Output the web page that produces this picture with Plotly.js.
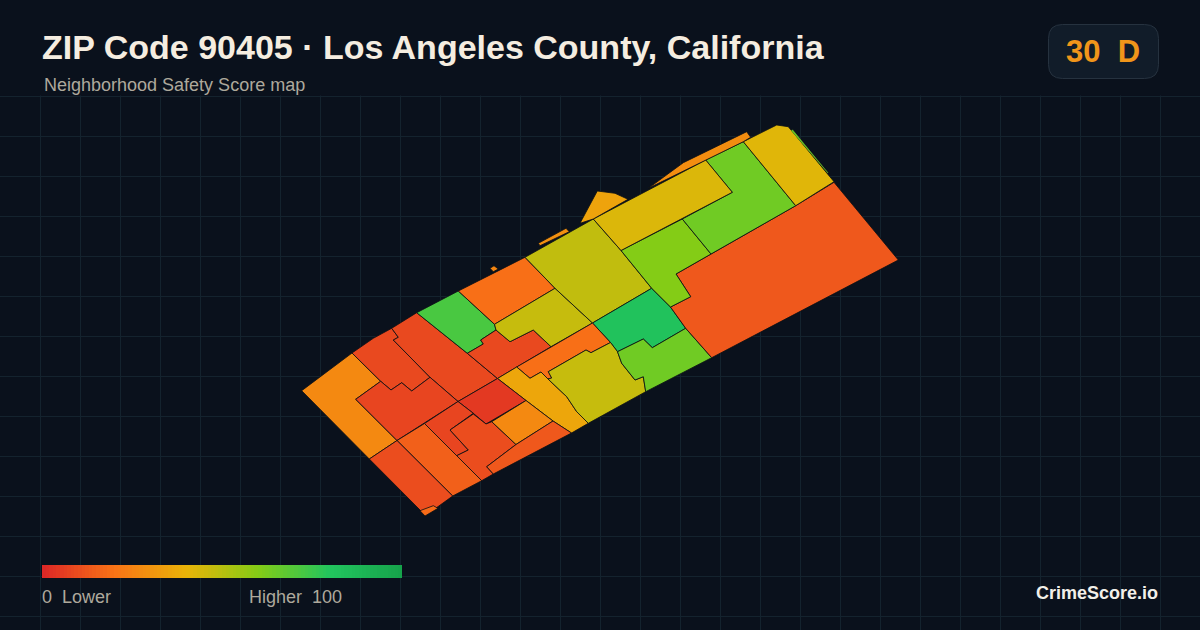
<!DOCTYPE html>
<html><head><meta charset="utf-8">
<script src="https://cdn.plot.ly/plotly-3.0.1.min.js"></script>
<style>html,body{margin:0;padding:0;background:#0a111c;overflow:hidden}#c{width:1200px;height:630px}</style>
</head><body><div id="c"></div>
<script>
const scoreStops=[0,20,40,60,80,100];
const stopColors=['#dc2626','#f97316','#eab308','#84cc16','#22c55e','#16a34a'];
const tractScore=[27,9,9,8,72,9,19,47,48,82,19,36,47,64,13,60,64,42,43,28,35,29,26,5,8,10,27,13,15,10,18,64];
const tractX=[
[301.7,352,380.7,355.7,397,369.3],
[352,373.3,391.7,398.3,393.3,430,411.7,401.7,391,380.7],
[391.7,416.7,467.3,497.5,458,430,393.3,398.3],
[355.7,380.7,391,401.7,411.7,430,458,397],
[416.7,458.3,494.5,496,480.7,483.3,467.3],
[467.3,483.3,480.7,496,510,533.3,551,497.5],
[458.3,525,555,494.5],
[494.5,555,592.5,551,533.3,510,496],
[525,593.3,621,651.7,592.5,555],
[592.5,651.7,670.5,685.7,652.3,643.3,617.5,610.5],
[516.7,551,592.5,610.5,591,586,548.3,551.7,548,541,530],
[497.5,516.7,530,541,548,566.7,576.7,588.3,571.5,553,526],
[548.3,586,591,610.5,617.5,621.7,635,643.3,645.7,598.3,588.3,576.7,566.7,548,551.7],
[617.5,643.3,652.3,685.7,711.7,645.7,643.3,635,621.7],
[676,711,795.7,834,898.3,711.7,685.7,670.5,690.7],
[621,682.3,711,676,690.7,670.5,651.7],
[682.3,732.3,705.7,743.3,795.7,711],
[743.3,776.7,788.3,834,795.7],
[593.3,705.7,732.3,621],
[648.3,683.3,746.7,750.7,743.3,705.7],
[580,597.3,615,628,593.3],
[538.3,566,569.3,540],
[490,494,498.3,493.3],
[458,497.5,526,486,473.3],
[424.5,458,473.3,450,468.3,456.7],
[450,473.3,486,491.7,516,486.7,493.3,481.7,456.7,468.3],
[491.7,526,553,516],
[516,553,571.5,493.3,486.7],
[397,424.5,481.7,452.7],
[369.3,397,452.7,425,420],
[420,433.3,438,425],
[792.5,828,791.5]
];
const tractY=[
[390.7,353,381.3,399.3,440.5,459],
[353,338.3,328.3,337.3,340,377.3,391,382.7,390,381.3],
[328.3,312.7,353.3,378.5,401.5,377.3,340,337.3],
[399.3,381.3,390,382.7,391,377.3,401.5,440.5],
[312.7,291,324.3,330,340,344,353.3],
[353.3,344,340,330,341.7,330,346.7,378.5],
[291,257.3,288.3,324.3],
[324.3,288.3,323,346.7,330,341.7,330],
[257.3,219,250.5,288.3,323,288.3],
[323,288.3,307,328.3,347.7,339,351.7,342.5],
[367,346.7,323,342.5,352.7,350,371.7,378,379,372,378.3],
[378.5,367,378.3,372,379,396.7,411.7,423.3,433,421,400.5],
[371.7,350,352.7,342.5,351.7,363.3,380,376.7,391.7,418.3,423.3,411.7,396.7,379,378],
[351.7,339,347.7,328.3,357.7,391.7,376.7,380,363.3],
[274,254,205.7,182.3,260,357.7,328.3,307,296.7],
[250.5,219,254,274,296.7,307,288.3],
[219,192.3,160,141.7,205.7,254],
[141.7,125,126.7,181.7,205.7],
[219,160,192.3,250.5],
[188.3,162.7,131.7,137.3,141.7,160],
[223.3,191,193.3,199.3,219],
[243.3,228.3,231.7,245.7],
[268.3,265.7,269,271.7],
[401.5,378.5,400.5,424,413.3],
[423.5,401.5,413.3,430,450,455.7],
[430,414,424,421.7,444.5,466.7,474,480.7,455.7,450],
[421.7,400.5,421,444.5],
[444.5,421,433,474,466.7],
[440.5,423.5,480.7,496],
[459,440.5,496,516,510],
[510.7,505.7,508.3,516],
[129.8,173,130.8]
];
const titleText='ZIP Code 90405 · Los Angeles County, California';
const subtitleText='Neighborhood Safety Score map';
const badgeText='30\u00a0\u00a0D';
const legendLow='0\u00a0\u00a0Lower';
const legendHigh='Higher\u00a0\u00a0100';
const brandText='CrimeScore.io';

const rgb=h=>[1,3,5].map(i=>parseInt(h.substr(i,2),16));
function scoreColor(s){
  let i=0; while(i<scoreStops.length-2 && s>scoreStops[i+1]) i++;
  const t=(s-scoreStops[i])/(scoreStops[i+1]-scoreStops[i]);
  const a=rgb(stopColors[i]),b=rgb(stopColors[i+1]);
  return 'rgb('+a.map((v,k)=>Math.round(v+(b[k]-v)*t)).join(',')+')';
}
const traces=tractX.map((xs,i)=>({
  type:'scatter',mode:'lines',fill:'toself',hoverinfo:'skip',showlegend:false,
  x:xs.concat(xs[0]),y:tractY[i].concat(tractY[i][0]),
  fillcolor:scoreColor(tractScore[i]),
  line:{color:i===tractX.length-1?scoreColor(tractScore[i]):'#0a0f14',width:i===tractX.length-1?0.5:0.8}
}));
const rampZ=[];for(let s=0;s<100;s++)rampZ.push(s+0.5);
traces.push({type:'heatmap',z:[rampZ],x0:43.8,dx:3.6,y0:571.4,dy:12.8,zmin:0,zmax:100,showscale:false,hoverinfo:'skip',
  colorscale:scoreStops.map((s,i)=>[s/100,stopColors[i]])});
const ann=(text,x,y,size,color,bold,anchor)=>({text:bold?'<b>'+text+'</b>':text,x,y,xref:'x',yref:'y',xanchor:anchor||'left',yanchor:'middle',showarrow:false,
  font:{family:'"Liberation Sans",Arial,sans-serif',size,color}});
const bx0=1048.5,bx1=1158.5,by0=24.5,by1=78.5,r=14;
const layout={
  width:1200,height:630,margin:{l:0,r:0,t:0,b:0},paper_bgcolor:'#0a111c',plot_bgcolor:'#0a111c',showlegend:false,
  xaxis:{range:[0,1200],tick0:0,dtick:40,showgrid:true,gridcolor:'#14232e',gridwidth:1,zeroline:false,showticklabels:false,ticks:'',showline:false,fixedrange:true},
  yaxis:{range:[630,0],tick0:16,dtick:40,showgrid:true,gridcolor:'#14232e',gridwidth:1,zeroline:false,showticklabels:false,ticks:'',showline:false,fixedrange:true},
  shapes:[
    {type:'rect',layer:'between',xref:'x',yref:'y',x0:0,x1:1200,y0:0,y1:95.5,fillcolor:'#0a111c',line:{width:0}},
    {type:'path',layer:'above',xref:'x',yref:'y',fillcolor:'#111c29',line:{color:'#26323f',width:1},
     path:`M${bx0+r},${by0} L${bx1-r},${by0} Q${bx1},${by0} ${bx1},${by0+r} L${bx1},${by1-r} Q${bx1},${by1} ${bx1-r},${by1} L${bx0+r},${by1} Q${bx0},${by1} ${bx0},${by1-r} L${bx0},${by0+r} Q${bx0},${by0} ${bx0+r},${by0} Z`}
  ],
  annotations:[
    ann(titleText,39.5,47,34,'#f5ede0',true),
    ann(subtitleText,42,85,18,'#aea99c',false),
    ann(badgeText,1103,51,31,'#f0951a',true,'center'),
    ann(legendLow,40,597,18,'#aea99c',false),
    ann(legendHigh,247,597,18,'#aea99c',false),
    ann(brandText,1160,593,18,'#f2efe9',true,'right')
  ]
};
Plotly.newPlot('c',traces,layout,{displayModeBar:false,staticPlot:true});
</script></body></html>
